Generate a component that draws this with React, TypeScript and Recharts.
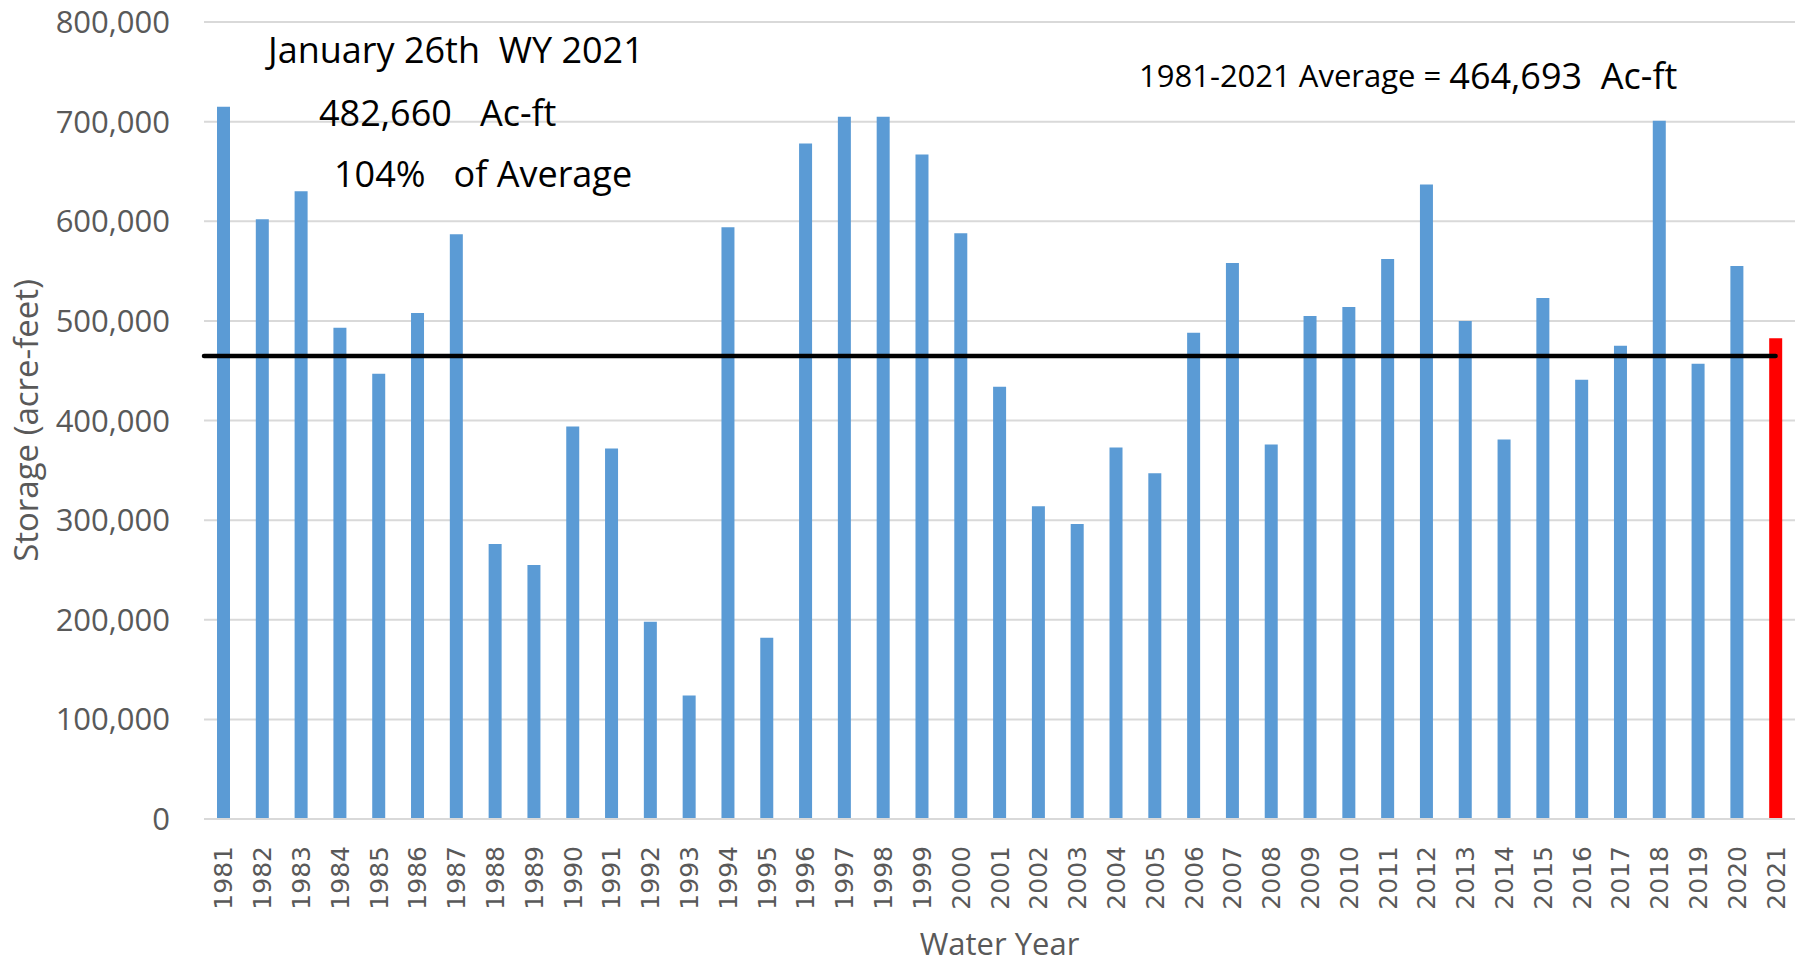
import React from 'react';
import { BarChart, Bar, XAxis, YAxis, CartesianGrid, Cell, ReferenceLine, Customized } from 'recharts';

const YEARS = ['1981','1982','1983','1984','1985','1986','1987','1988','1989','1990','1991','1992','1993','1994','1995','1996','1997','1998','1999','2000','2001','2002','2003','2004','2005','2006','2007','2008','2009','2010','2011','2012','2013','2014','2015','2016','2017','2018','2019','2020','2021'];
const STORAGE = [715000,602000,630000,493000,447000,508000,587000,276000,255000,394000,372000,198000,124000,594000,182000,678000,705000,705000,667000,588000,434000,314000,296000,373000,347000,488000,558000,376000,505000,514000,562000,637000,500000,381000,523000,441000,475000,701000,457000,555000,482660];
const AVERAGE = 464693;
const Y_TICKS = [0,100000,200000,300000,400000,500000,600000,700000,800000];
const HIGHLIGHT_YEAR = '2021';
const BAR_COLOR = '#5b9bd5';
const HIGHLIGHT_COLOR = '#ff0000';
const NB = '\u00A0';

const data = YEARS.map((year, i) => ({ year, storage: STORAGE[i] }));

const XTick = (props: any) => {
  const { x, y, payload } = props;
  return (
    <g transform={`translate(${x},${y + 19})`}>
      <text x={0} y={0} dy="0.36em" textAnchor="end" transform="rotate(-90)" fill="#595959" fontSize={25} fontFamily="DejaVu Sans">
        {payload.value}
      </text>
    </g>
  );
};

const Annotations = () => (
  <g fontFamily="Open Sans" fill="#000">
    <text x={268} y={49} dominantBaseline="central" fontSize={36}>{`January 26th${NB} WY 2021`}</text>
    <text x={319} y={112} dominantBaseline="central" fontSize={36}>{`482,660${NB}${NB} Ac-ft`}</text>
    <text x={334} y={173} dominantBaseline="central" fontSize={36}>{`104%${NB}${NB} of Average`}</text>
    <text x={1139} y={75} dominantBaseline="central">
      <tspan fontSize={31}>{'1981-2021 Average = '}</tspan>
      <tspan fontSize={36}>{`464,693${NB} Ac-ft`}</tspan>
    </text>
  </g>
);

export default function App() {
  return (
    <div style={{ position: 'absolute', left: 0, top: 0, background: '#fff' }}>
      <BarChart width={1804} height={959} data={data} margin={{ top: 22, right: 9, bottom: 0, left: 0 }}>
        <CartesianGrid vertical={false} stroke="#d9d9d9" strokeWidth={2} />
        <YAxis
          domain={[0, 800000]}
          ticks={Y_TICKS}
          width={204}
          axisLine={false}
          tickLine={false}
          tickMargin={28}
          tickFormatter={(v: number) => v.toLocaleString('en-US')}
          tick={{ fill: '#595959', fontSize: 31, fontFamily: 'Open Sans' }}
          label={{
            content: (p: any) => {
              const vb = p.viewBox;
              const cx = vb.x + 25;
              const cy = vb.y + vb.height / 2;
              return (
                <text x={cx} y={cy} transform={`rotate(-90, ${cx}, ${cy})`} textAnchor="middle" dominantBaseline="central" fill="#595959" fontSize={33} fontFamily="Open Sans">
                  Storage (acre-feet)
                </text>
              );
            },
          }}
        />
        <XAxis
          dataKey="year"
          interval={0}
          height={140}
          tickLine={false}
          axisLine={{ stroke: '#d9d9d9', strokeWidth: 2 }}
          tick={<XTick />}
          label={{
            content: (p: any) => {
              const vb = p.viewBox;
              return (
                <text x={vb.x + vb.width / 2} y={vb.y + 124} textAnchor="middle" dominantBaseline="central" fill="#595959" fontSize={31} fontFamily="Open Sans">
                  Water Year
                </text>
              );
            },
          }}
        />
        <Bar dataKey="storage" barSize={13} isAnimationActive={false}>
          {data.map((d) => (
            <Cell key={d.year} fill={d.year === HIGHLIGHT_YEAR ? HIGHLIGHT_COLOR : BAR_COLOR} />
          ))}
        </Bar>
        <ReferenceLine
          y={AVERAGE}
          stroke="#000"
          strokeWidth={4.5}
          shape={(p: any) => {
            const band = (p.x2 - p.x1) / YEARS.length;
            return <line x1={p.x1} y1={p.y1} x2={p.x2 - band / 2} y2={p.y2} stroke="#000" strokeWidth={4.5} strokeLinecap="round" />;
          }}
        />
        <Customized component={Annotations} />
      </BarChart>
    </div>
  );
}
